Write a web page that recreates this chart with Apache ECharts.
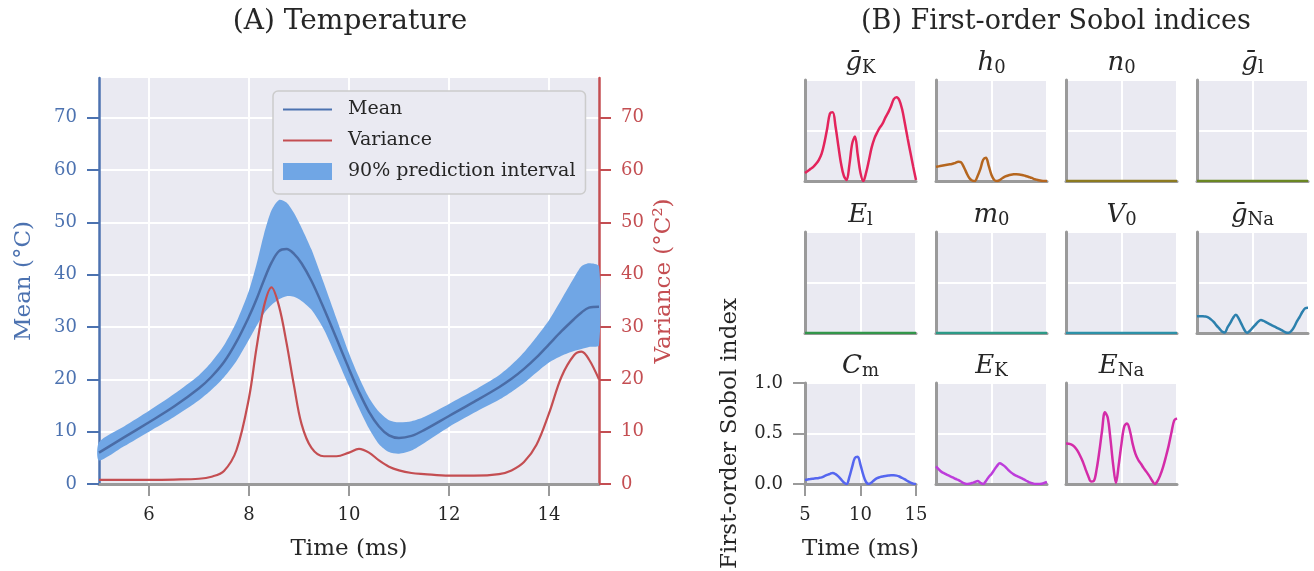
<!DOCTYPE html>
<html>
<head>
<meta charset="utf-8">
<script src="https://cdn.jsdelivr.net/npm/echarts@6/dist/echarts.min.js"></script>
<style>
  html, body { margin: 0; padding: 0; background: #fff; }
  #main { width: 1314px; height: 571px; }
</style>
</head>
<body>
<div id="main"></div>
<script>
// ---- (A) Temperature ----
const tempTime = [5, 5.5, 6, 6.5, 7, 7.25, 7.5, 7.75, 8, 8.15, 8.3, 8.45, 8.6, 8.75, 8.9, 9.05, 9.25, 9.5, 9.75, 10,
  10.2, 10.4, 10.6, 10.8, 11, 11.25, 11.5, 12, 12.5, 13, 13.25, 13.5, 13.75, 14, 14.25, 14.5, 14.65, 14.8, 15];
const tempMean = [6.0, 8.9, 11.8, 14.8, 18.3, 20.5, 23.3, 27.2, 32.0, 35.3, 39.0, 42.3, 44.5, 44.9, 44.0, 42.2, 38.8, 33.5, 27.8, 22.0,
  17.6, 13.8, 11.0, 9.3, 8.8, 9.2, 10.3, 13.0, 15.7, 18.5, 20.1, 22.0, 24.2, 26.7, 29.2, 31.5, 32.8, 33.7, 33.9];
const tempUpper = [8.0, 11.0, 14.0, 17.2, 20.8, 23.3, 26.5, 31.0, 37.0, 42.0, 47.8, 52.3, 54.3, 53.8, 51.8, 49.0, 44.8, 38.3, 31.6, 25.0,
  20.4, 16.5, 13.8, 12.2, 11.8, 12.0, 12.8, 15.3, 17.9, 20.8, 22.8, 25.2, 28.1, 31.3, 35.3, 39.4, 41.6, 42.2, 41.6];
const tempLower = [4.5, 7.2, 10.0, 12.8, 16.0, 18.0, 20.4, 23.5, 27.6, 30.2, 32.6, 34.2, 35.3, 35.9, 35.8, 35.0, 33.3, 29.5, 24.2, 18.7,
  14.5, 10.6, 7.6, 6.1, 5.8, 6.4, 7.8, 10.9, 13.6, 16.1, 17.6, 19.3, 21.3, 23.2, 24.5, 25.4, 25.8, 26.2, 26.5];
const tempVariance = [0.8, 0.8, 0.8, 0.85, 1.0, 1.4, 2.5, 6.5, 16.5, 26.0, 34.0, 37.6, 34.0, 27.0, 18.8, 11.5, 6.9, 5.3, 5.3, 6.0,
  6.7, 6.0, 4.5, 3.3, 2.6, 2.1, 1.9, 1.6, 1.6, 1.9, 2.6, 4.2, 7.5, 13.5, 20.5, 24.6, 25.3, 23.8, 20.0];
const tempTicks = [0, 10, 20, 30, 40, 50, 60, 70];
const timeTicks = [6, 8, 10, 12, 14];

// ---- (B) First-order Sobol indices ----
const sobolTime = [5, 5.25, 5.5, 5.75, 6, 6.25, 6.5, 6.75, 7, 7.25, 7.5, 7.75, 8, 8.25, 8.5, 8.75, 9, 9.25, 9.5, 9.75,
  10, 10.25, 10.5, 10.75, 11, 11.25, 11.5, 11.75, 12, 12.25, 12.5, 12.75, 13, 13.25, 13.5, 13.75, 14, 14.25, 14.5, 14.75, 15];
const sobolGK = [0.08, 0.10, 0.12, 0.14, 0.17, 0.21, 0.27, 0.38, 0.52, 0.67, 0.68, 0.54, 0.35, 0.17, 0.05, 0.01, 0.16, 0.37, 0.44, 0.26,
  0.08, 0.00, 0.08, 0.20, 0.33, 0.42, 0.48, 0.53, 0.57, 0.63, 0.68, 0.74, 0.81, 0.83, 0.80, 0.71, 0.57, 0.42, 0.28, 0.14, 0.01];
const sobolH0 = [0.14, 0.145, 0.15, 0.155, 0.16, 0.165, 0.17, 0.18, 0.19, 0.185, 0.14, 0.08, 0.03, 0.005, 0.00, 0.05, 0.12, 0.21, 0.23, 0.15,
  0.06, 0.01, 0.00, 0.01, 0.03, 0.045, 0.055, 0.062, 0.066, 0.067, 0.065, 0.06, 0.053, 0.045, 0.035, 0.024, 0.015, 0.007, 0.002, 0.00, 0.00];
const sobolN0 = [0, 0, 0, 0, 0, 0, 0, 0, 0, 0, 0, 0, 0, 0, 0, 0, 0, 0, 0, 0,
  0, 0, 0, 0, 0, 0, 0, 0, 0, 0, 0, 0, 0, 0, 0, 0, 0, 0, 0, 0, 0];
const sobolGL = [0, 0, 0, 0, 0, 0, 0, 0, 0, 0, 0, 0, 0, 0, 0, 0, 0, 0, 0, 0,
  0, 0, 0, 0, 0, 0, 0, 0, 0, 0, 0, 0, 0, 0, 0, 0, 0, 0, 0, 0, 0];
const sobolEL = [0, 0, 0, 0, 0, 0, 0, 0, 0, 0, 0, 0, 0, 0, 0, 0, 0, 0, 0, 0,
  0, 0, 0, 0, 0, 0, 0, 0, 0, 0, 0, 0, 0, 0, 0, 0, 0, 0, 0, 0, 0];
const sobolM0 = [0, 0, 0, 0, 0, 0, 0, 0, 0, 0, 0, 0, 0, 0, 0, 0, 0, 0, 0, 0,
  0, 0, 0, 0, 0, 0, 0, 0, 0, 0, 0, 0, 0, 0, 0, 0, 0, 0, 0, 0, 0];
const sobolV0 = [0, 0, 0, 0, 0, 0, 0, 0, 0, 0, 0, 0, 0, 0, 0, 0, 0, 0, 0, 0,
  0, 0, 0, 0, 0, 0, 0, 0, 0, 0, 0, 0, 0, 0, 0, 0, 0, 0, 0, 0, 0];
const sobolGNa = [0.165, 0.167, 0.166, 0.163, 0.155, 0.135, 0.11, 0.075, 0.045, 0.015, 0.005, 0.055, 0.10, 0.15, 0.18, 0.145, 0.09, 0.035, 0.002, 0.02,
  0.05, 0.08, 0.11, 0.128, 0.12, 0.105, 0.09, 0.075, 0.062, 0.048, 0.035, 0.02, 0.005, 0.002, 0.02, 0.06, 0.115, 0.16, 0.21, 0.245, 0.25];
const sobolCm = [0.04, 0.045, 0.05, 0.053, 0.056, 0.06, 0.066, 0.078, 0.09, 0.10, 0.11, 0.098, 0.075, 0.045, 0.015, 0.00, 0.07, 0.17, 0.26, 0.27,
  0.19, 0.09, 0.02, 0.00, 0.015, 0.04, 0.058, 0.068, 0.075, 0.08, 0.084, 0.087, 0.087, 0.083, 0.074, 0.06, 0.045, 0.028, 0.014, 0.004, 0.00];
const sobolEK = [0.175, 0.145, 0.12, 0.105, 0.09, 0.078, 0.066, 0.052, 0.04, 0.025, 0.008, 0.00, 0.003, 0.01, 0.02, 0.03, 0.012, 0.00, 0.03, 0.07,
  0.10, 0.14, 0.18, 0.205, 0.19, 0.17, 0.14, 0.115, 0.095, 0.08, 0.068, 0.055, 0.04, 0.025, 0.012, 0.004, 0.00, 0.00, 0.003, 0.01, 0.02];
const sobolENa = [0.40, 0.398, 0.39, 0.37, 0.335, 0.285, 0.225, 0.15, 0.08, 0.025, 0.03, 0.14, 0.32, 0.53, 0.71, 0.66, 0.45, 0.19, 0.01, 0.19,
  0.40, 0.57, 0.60, 0.53, 0.40, 0.30, 0.24, 0.20, 0.157, 0.12, 0.08, 0.035, 0.00, 0.03, 0.09, 0.17, 0.27, 0.38, 0.51, 0.63, 0.65];
const sobolValues = [sobolGK, sobolH0, sobolN0, sobolGL, sobolEL, sobolM0, sobolV0, sobolGNa, sobolCm, sobolEK, sobolENa];
// symbol + subscript of each parameter
const sobolLabels = [['ḡ', 'K'], ['h', '0'], ['n', '0'], ['ḡ', 'l'], ['E', 'l'], ['m', '0'],
  ['V', '0'], ['ḡ', 'Na'], ['C', 'm'], ['E', 'K'], ['E', 'Na']];
const sobolTicksX = [5, 10, 15];
const sobolTicksY = [0, 0.5, 1];

const serif = '"DejaVu Serif", "Liberation Serif", serif';
const ink = '#262626';
const blue = '#4c72b0';
const red = '#c44e52';
const bandColor = '#70a6e5';
const bg = '#eaeaf2';
const spine = '#9a9a9a';
const sobolColors = ['#e3245c', '#b5661f', '#8c7a20', '#6a8622', '#32964a', '#2c9a87', '#2d91a8', '#2c80ad',
  '#5566ef', '#bd3ddb', '#d42ca8'];

const lineIcon = 'path://M0,0L0,0M0,7.5L49,7.5L49,9.5L0,9.5ZM60,17L60,17';
const rectIcon = 'path://M0,0L49,0L49,17L0,17ZM60,0L60,0';

const colLeft = [805, 936, 1066, 1197];
const rowTop = [80, 232, 383];
const cellW = 111, cellH = 101;

let grids = [{ left: 99, top: 78, width: 500, height: 406, show: true, backgroundColor: bg, borderWidth: 0 }];
let xAxes = [{
  type: 'value', gridIndex: 0, min: 5, max: 15,
  name: 'Time (ms)', nameLocation: 'middle', nameGap: 54,
  nameTextStyle: { fontFamily: serif, fontSize: 23, color: ink },
  axisLine: { show: true, lineStyle: { color: spine, width: 3 } },
  axisTick: { show: true, customValues: timeTicks, length: 12, lineStyle: { color: spine, width: 2 } },
  axisLabel: { customValues: timeTicks, fontFamily: serif, fontSize: 18, color: ink, margin: 22 },
  splitLine: { show: true, lineStyle: { color: '#fff', width: 2 } }
}];
let yAxes = [{
  type: 'value', gridIndex: 0, position: 'left', min: 0, max: 77.6,
  name: 'Mean (°C)', nameLocation: 'middle', nameGap: 63, nameRotate: 90,
  nameTextStyle: { fontFamily: serif, fontSize: 23, color: blue },
  axisLine: { show: true, lineStyle: { color: blue, width: 2.5 } },
  axisTick: { show: true, customValues: tempTicks, length: 12, lineStyle: { color: blue, width: 2 } },
  axisLabel: { customValues: tempTicks, fontFamily: serif, fontSize: 18, color: blue, margin: 22 },
  splitLine: { show: true, lineStyle: { color: '#fff', width: 2 } }
}, {
  type: 'value', gridIndex: 0, position: 'right', min: 0, max: 77.6,
  name: 'Variance (°C²)', nameLocation: 'middle', nameGap: 54, nameRotate: 90,
  nameTextStyle: { fontFamily: serif, fontSize: 23, color: red },
  axisLine: { show: true, lineStyle: { color: red, width: 2.5 } },
  axisTick: { show: true, customValues: tempTicks, length: 12, lineStyle: { color: red, width: 2 } },
  axisLabel: { customValues: tempTicks, fontFamily: serif, fontSize: 18, color: red, margin: 22 },
  splitLine: { show: false }
}];

let titles = [
  { text: '(A) Temperature', left: 350, top: 22, textAlign: 'center', textVerticalAlign: 'middle', padding: 0,
    textStyle: { fontFamily: serif, fontSize: 28, fontWeight: 'normal', color: ink } },
  { text: '(B) First-order Sobol indices', left: 1056, top: 22, textAlign: 'center', textVerticalAlign: 'middle', padding: 0,
    textStyle: { fontFamily: serif, fontSize: 27, fontWeight: 'normal', color: ink } }
];

let series = [
  {
    type: 'custom', name: '90% prediction interval', xAxisIndex: 0, yAxisIndex: 0,
    itemStyle: { color: bandColor }, silent: true,
    data: [[tempTime[0], tempLower[0]]],
    renderItem: (params, api) => {
      let pts = [];
      for (let k = 0; k < tempTime.length; k++) pts.push(api.coord([tempTime[k], tempUpper[k]]));
      for (let k = tempTime.length - 1; k >= 0; k--) pts.push(api.coord([tempTime[k], tempLower[k]]));
      return { type: 'polygon', shape: { points: pts, smooth: 0.25 }, style: { fill: bandColor } };
    }
  },
  {
    type: 'line', name: 'Mean', xAxisIndex: 0, yAxisIndex: 0, symbol: 'none', smooth: 0.35, silent: true,
    data: tempTime.map((t, k) => [t, tempMean[k]]),
    itemStyle: { color: blue }, lineStyle: { color: '#4a6ca6', width: 2.5 }
  },
  {
    type: 'line', name: 'Variance', xAxisIndex: 0, yAxisIndex: 1, symbol: 'none', smooth: 0.35, silent: true,
    data: tempTime.map((t, k) => [t, tempVariance[k]]),
    itemStyle: { color: red }, lineStyle: { color: red, width: 2.2 }
  }
];

sobolValues.forEach((vals, i) => {
  const col = i % 4, row = Math.floor(i / 4);
  const isCm = i === 8;
  grids.push({ left: colLeft[col], top: rowTop[row], width: cellW, height: cellH, show: true, backgroundColor: bg, borderWidth: 0 });
  xAxes.push({
    type: 'value', gridIndex: i + 1, min: 5, max: 15,
    name: isCm ? 'Time (ms)' : '', nameLocation: 'middle', nameGap: 54,
    nameTextStyle: { fontFamily: serif, fontSize: 23, color: ink },
    axisLine: { show: true, lineStyle: { color: spine, width: 3 } },
    axisTick: { show: isCm, customValues: sobolTicksX, length: 12, lineStyle: { color: spine, width: 2 } },
    axisLabel: { show: isCm, customValues: sobolTicksX, fontFamily: serif, fontSize: 18, color: ink, margin: 22 },
    splitLine: { show: true, lineStyle: { color: '#fff', width: 2 } }
  });
  yAxes.push({
    type: 'value', gridIndex: i + 1, min: 0, max: 1,
    name: isCm ? 'First-order Sobol index' : '', nameLocation: 'middle', nameGap: 63, nameRotate: 90,
    nameTextStyle: { fontFamily: serif, fontSize: 23, color: ink },
    axisLine: { show: true, lineStyle: { color: spine, width: 3 } },
    axisTick: { show: isCm, customValues: sobolTicksY, length: 12, lineStyle: { color: spine, width: 2 } },
    axisLabel: { show: isCm, customValues: sobolTicksY, fontFamily: serif, fontSize: 18, color: ink, margin: 22,
      formatter: v => v.toFixed(1) },
    splitLine: { show: true, lineStyle: { color: '#fff', width: 2 } }
  });
  titles.push({
    text: '{m|' + sobolLabels[i][0] + '}{s|' + sobolLabels[i][1] + '}',
    left: colLeft[col] + cellW / 2, top: rowTop[row] - 31, textAlign: 'center', textVerticalAlign: 'top', padding: 0,
    textStyle: {
      fontWeight: 'normal',
      rich: {
        m: { fontFamily: serif, fontStyle: 'italic', fontWeight: 'normal', fontSize: 26, lineHeight: 28, color: ink },
        s: { fontFamily: serif, fontWeight: 'normal', fontSize: 18, lineHeight: 14, verticalAlign: 'bottom', color: ink }
      }
    }
  });
  series.push({
    type: 'line', xAxisIndex: i + 1, yAxisIndex: i + 2, symbol: 'none', smooth: 0.35, silent: true,
    data: sobolTime.map((t, k) => [t, vals[k]]),
    lineStyle: { color: sobolColors[i], width: 2.5 }
  });
});

let option = {
  animation: false,
  backgroundColor: '#fff',
  title: titles,
  legend: {
    left: 273, top: 91, orient: 'vertical', selectedMode: false,
    data: [
      { name: 'Mean', icon: lineIcon, itemStyle: { color: blue, borderWidth: 0 } },
      { name: 'Variance', icon: lineIcon, itemStyle: { color: red, borderWidth: 0 } },
      { name: '90% prediction interval', icon: rectIcon, itemStyle: { color: bandColor, borderWidth: 0 } }
    ],
    itemWidth: 60, itemHeight: 17, itemGap: 12,
    backgroundColor: bg, borderColor: '#cccccc', borderWidth: 1.5, borderRadius: 5,
    padding: [9, 10, 13, 10],
    textStyle: { fontFamily: serif, fontSize: 19, color: ink }
  },
  grid: grids,
  xAxis: xAxes,
  yAxis: yAxes,
  series: series
};

let myChart = echarts.init(document.getElementById('main'));
myChart.setOption(option);
</script>
</body>
</html>
